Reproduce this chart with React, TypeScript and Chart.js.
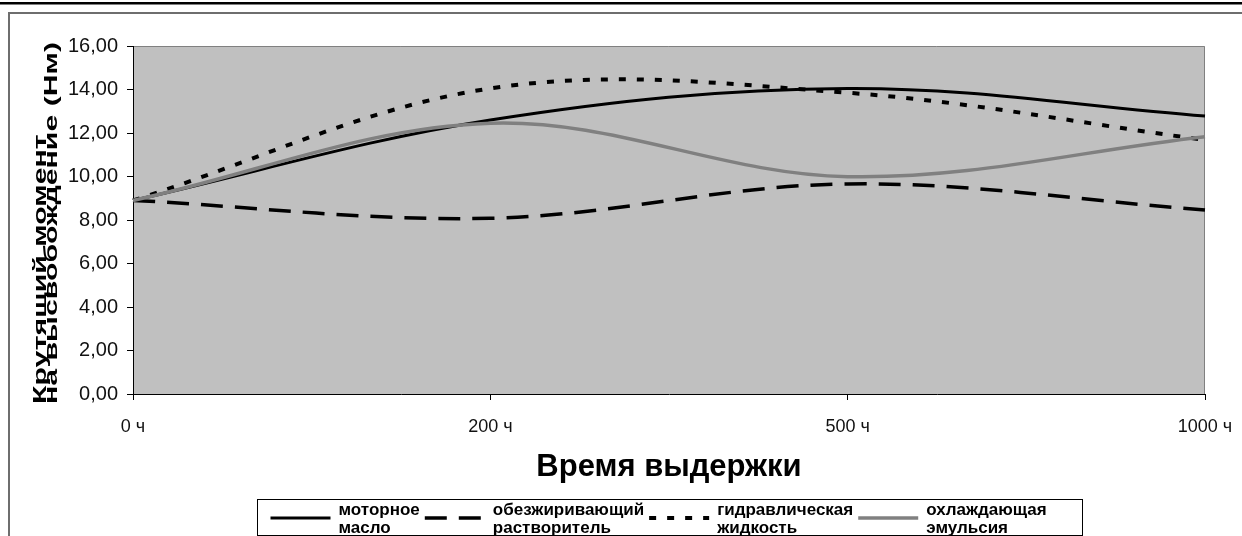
import React, { useEffect, useRef } from "react";
import { Chart, registerables } from "chart.js";

Chart.register(...registerables);

// ---- data ----
const categories = ["0 ч", "200 ч", "500 ч", "1000 ч"];
const motorOil = [8.9, 12.6, 14.05, 12.78];
const degreaser = [8.9, 8.08, 9.66, 8.46];
const hydraulic = [8.9, 14.05, 13.85, 11.68];
const coolant = [8.9, 12.45, 9.99, 11.83];
const seriesLabels = [
  "моторное масло",
  "обезжиривающий растворитель",
  "гидравлическая жидкость",
  "охлаждающая эмульсия",
];
const yMin = 0;
const yMax = 16;
const yStep = 2;
const yTitleLines = ["Крутящий момент", "на высвобождение (Нм)"];
const xTitle = "Время выдержки";

const FONT = '"Liberation Sans", Arial, sans-serif';

const decorPlugin = {
  id: "decor",
  beforeDraw(chart: any) {
    const { ctx, width, height, chartArea: a } = chart;
    ctx.save();
    ctx.fillStyle = "#ffffff";
    ctx.fillRect(0, 0, width, height);
    // top black rule
    ctx.fillStyle = "#000000";
    ctx.fillRect(0, 2, width, 2.5);
    // gray frame (left + top)
    ctx.strokeStyle = "#6e6e6e";
    ctx.lineWidth = 2;
    ctx.beginPath();
    ctx.moveTo(9, height + 5);
    ctx.lineTo(9, 13);
    ctx.lineTo(width + 5, 13);
    ctx.stroke();
    // plot area
    ctx.fillStyle = "#c0c0c0";
    ctx.fillRect(a.left, a.top, a.right - a.left, a.bottom - a.top);
    ctx.strokeStyle = "#808080";
    ctx.lineWidth = 1;
    ctx.beginPath();
    ctx.moveTo(a.left, a.top + 0.5);
    ctx.lineTo(a.right - 0.5, a.top + 0.5);
    ctx.lineTo(a.right - 0.5, a.bottom);
    ctx.stroke();
    ctx.restore();
  },
  afterDraw(chart: any) {
    const { ctx, chartArea: a } = chart;
    ctx.save();
    // ---- y title (two rotated lines, left aligned from bottom) ----
    ctx.fillStyle = "#000000";
    ctx.font = `bold 19px ${FONT}`;
    ctx.textAlign = "left";
    ctx.textBaseline = "alphabetic";
    const targetLen = 362;
    const w2 = ctx.measureText(yTitleLines[1]).width;
    const s = targetLen / w2;
    const baseX = [46, 57];
    yTitleLines.forEach((line, i) => {
      ctx.save();
      ctx.translate(baseX[i], 404);
      ctx.rotate(-Math.PI / 2);
      ctx.scale(s, 1);
      ctx.fillText(line, 0, 0);
      ctx.restore();
    });

    // ---- legend ----
    const boxW = 825;
    const boxH = 37;
    const cx = (a.left + a.right) / 2;
    const boxL = Math.round(cx - boxW / 2) + 0.5;
    const boxT = 499.5;
    ctx.strokeStyle = "#000000";
    ctx.lineWidth = 1;
    ctx.strokeRect(boxL, boxT, boxW, boxH - 1);
    ctx.font = `bold 17px ${FONT}`;
    let tx = boxL + 81;
    const midY = boxT + 18.5;
    chart.data.datasets.forEach((ds: any) => {
      ctx.save();
      ctx.strokeStyle = ds.borderColor;
      ctx.lineWidth = ds.borderWidth;
      ctx.lineCap = "butt";
      ctx.setLineDash(ds.borderDash || []);
      ctx.beginPath();
      ctx.moveTo(tx - 68, midY);
      ctx.lineTo(tx - 8, midY);
      ctx.stroke();
      ctx.restore();
      const parts = String(ds.label).split(" ");
      ctx.fillStyle = "#000000";
      ctx.fillText(parts[0], tx, boxT + 15.5);
      ctx.fillText(parts.slice(1).join(" "), tx, boxT + 33.5);
      const tw = Math.max(...parts.map((p) => ctx.measureText(p).width));
      tx = tx + tw + 73;
    });
    ctx.restore();
  },
};

export default function App() {
  const ref = useRef<HTMLCanvasElement | null>(null);

  useEffect(() => {
    document.body.style.margin = "0";
    document.body.style.overflow = "hidden";
    const canvas = ref.current;
    if (!canvas) return;
    const common = {
      fill: false,
      pointRadius: 0,
      pointHoverRadius: 0,
      tension: 0.35,
      borderCapStyle: "butt",
    };
    const chart = new Chart(canvas, {
      type: "line",
      data: {
        labels: categories,
        datasets: [
          { ...common, label: seriesLabels[0], data: motorOil, borderColor: "#000000", borderWidth: 3, borderDash: [], order: 4 },
          { ...common, label: seriesLabels[1], data: degreaser, borderColor: "#000000", borderWidth: 3.5, borderDash: [22, 12], order: 3 },
          { ...common, label: seriesLabels[2], data: hydraulic, borderColor: "#000000", borderWidth: 4, borderDash: [7, 11], order: 2 },
          { ...common, label: seriesLabels[3], data: coolant, borderColor: "#808080", borderWidth: 3.5, borderDash: [], order: 1 },
        ] as any,
      },
      options: {
        animation: false,
        responsive: false,
        devicePixelRatio: 1,
        layout: { padding: { left: 0, right: 37, top: 46, bottom: 50 } },
        plugins: { legend: { display: false }, tooltip: { enabled: false } },
        events: [],
        scales: {
          x: {
            type: "category",
            offset: false,
            grid: { display: true, drawOnChartArea: false, drawTicks: true, tickLength: 6, color: "#000000" },
            border: { display: true, color: "#000000", width: 1 },
            ticks: { color: "#111111", font: { family: FONT, size: 18 }, padding: 16, maxRotation: 0, autoSkip: false },
            title: { display: true, text: xTitle, color: "#000000", font: { family: FONT, size: 31, weight: "bold" }, padding: { top: 0, bottom: 0 } },
            afterFit: (scale: any) => {
              scale.height = 92;
              scale.paddingLeft = 0;
              scale.paddingRight = 0;
            },
          },
          y: {
            min: yMin,
            max: yMax,
            grid: { display: true, drawOnChartArea: false, drawTicks: true, tickLength: 6, color: "#000000" },
            border: { display: true, color: "#000000", width: 1 },
            ticks: {
              stepSize: yStep,
              color: "#111111",
              font: { family: FONT, size: 20 },
              padding: 9,
              callback: (v: any) => Number(v).toFixed(2).replace(".", ","),
            },
            title: { display: false },
            afterFit: (scale: any) => {
              scale.width = 133;
              scale.paddingTop = 0;
              scale.paddingBottom = 0;
            },
          },
        },
      } as any,
      plugins: [decorPlugin],
    });
    return () => chart.destroy();
  }, []);

  return (
    <div style={{ position: "relative", width: 1242, height: 536 }}>
      <canvas ref={ref} width={1242} height={536} style={{ width: 1242, height: 536, display: "block" }} />
    </div>
  );
}
